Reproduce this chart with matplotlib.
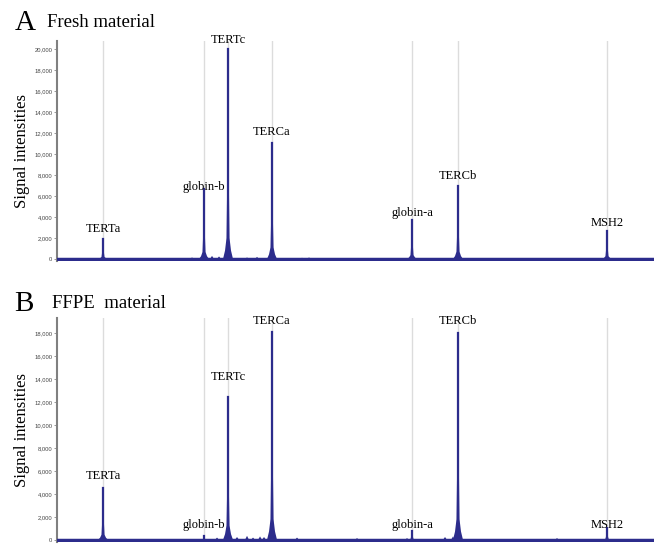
import numpy as np
import matplotlib.pyplot as plt

# peak names, positions (arbitrary run units) and signal heights
probes_a = ["TERTa", "globin-b", "TERTc", "TERCa", "globin-a", "TERCb", "MSH2"]
pos_a = [46, 147, 171, 215, 355, 401, 550]
height_a = [1900, 6700, 20000, 11100, 3700, 7000, 2700]

probes_b = ["TERTa", "globin-b", "TERTc", "TERCa", "globin-a", "TERCb", "MSH2"]
pos_b = [46, 147, 171, 215, 355, 401, 550]
height_b = [4500, 300, 12400, 18100, 800, 18000, 1000]

# small noise bumps near the baseline
noise_pos_a = [135, 155, 162, 190, 200, 245, 252]
noise_h_a = [150, 300, 250, 150, 200, 120, 150]
noise_pos_b = [160, 180, 190, 196, 203, 207, 240, 300, 350, 388, 396, 500]
noise_h_b = [200, 250, 350, 200, 300, 250, 200, 150, 150, 250, 300, 150]

# label offsets above peak tops (signal units)
lab_y_a = [2300, 6300, 20300, 11500, 3800, 7300, 2900]
lab_y_b = [5000, 800, 13700, 18500, 800, 18500, 800]

navy = "#2c2c8c"
serif = ["Liberation Serif", "DejaVu Serif"]
narrow = ["Liberation Sans Narrow", "Liberation Sans", "DejaVu Sans"]

fig = plt.figure(figsize=(6.54, 5.44), dpi=100)


def draw_panel(ax, pos, heights, names, lab_y, npos, nh, ymax, ticks):
    dx = np.array([-5, -3, -1.5, -0.6, 0, 0.6, 1.5, 3, 5])
    fy = np.array([0, 0.04, 0.1, 0.45, 1, 0.45, 0.1, 0.04, 0])
    for p in pos:
        ax.plot([p, p], [0, ymax], color="#dcdcdc", lw=1, zorder=1)
    for p, h in zip(npos, nh):
        ax.fill(p + np.array([-2, 0, 2]), [0, h, 0], color=navy, lw=0, zorder=2)
    for p, h in zip(pos, heights):
        ax.fill(p + dx, h * fy, color=navy, lw=0, zorder=3)
        ax.plot([p, p], [0, h], color=navy, lw=1.6, zorder=3)
    for p, y, n in zip(pos, lab_y, names):
        ax.text(p, y, n, ha="center", va="bottom", fontsize=9, family=serif)
    ax.axhline(0, color=navy, lw=2.5, zorder=4)
    ax.set_xlim(0, 597)
    ax.set_xticks([])
    ax.set_yticks(ticks)
    ax.set_yticklabels([f"{t:,}" for t in ticks], fontsize=4.2, color="#444444",
                       family=narrow)
    ax.tick_params(axis="y", length=2, width=0.6, color="#888888", pad=1.5)
    for s in ["top", "right", "bottom"]:
        ax.spines[s].set_visible(False)
    ax.spines["left"].set_color("#808080")
    ax.spines["left"].set_linewidth(1.5)
    ax.set_ylabel("Signal intensities", fontsize=12, family=serif)
    ax.yaxis.set_label_coords(-0.046, 0.5)


ax1 = fig.add_axes([0.0872, 0.520, 0.9128, 0.405])
ax1.set_ylim(-200, 20800)
draw_panel(ax1, pos_a, height_a, probes_a, lab_y_a, noise_pos_a, noise_h_a,
           20800, list(range(0, 20001, 2000)))

ax2 = fig.add_axes([0.0872, 0.004, 0.9128, 0.411])
ax2.set_ylim(-170, 19300)
draw_panel(ax2, pos_b, height_b, probes_b, lab_y_b, noise_pos_b, noise_h_b,
           19300, list(range(0, 18001, 2000)))

fig.text(0.022, 0.958, "A", fontsize=21, family=serif, va="center")
fig.text(0.072, 0.958, "Fresh material", fontsize=13.5, family=serif, va="center")
fig.text(0.022, 0.442, "B", fontsize=21, family=serif, va="center")
fig.text(0.080, 0.442, "FFPE  material", fontsize=13.5, family=serif, va="center")

fig.savefig("out.png", dpi=100)
